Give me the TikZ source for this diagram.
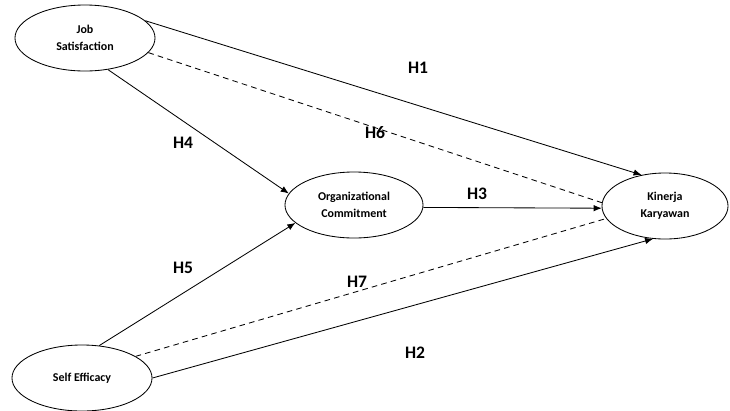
\documentclass[tikz,border=0pt]{standalone}
\usepackage{fontspec}
\setmainfont{Carlito}
\usetikzlibrary{arrows.meta,shapes.geometric}

\tikzset{
  construct/.style={draw,ellipse,line width=0.6pt,inner sep=0pt,minimum width=3.5cm,minimum height=1.65cm,align=center,font=\fontsize{8.5}{12}\selectfont\bfseries},
  path/.style={line width=0.6pt,-{Latex[length=2mm,width=1.6mm]}},
  mediated/.style={line width=0.6pt,dashed,dash pattern=on 4pt off 3pt},
  hyp/.style={font=\fontsize{12.5}{14}\selectfont\bfseries}
}

\begin{document}
\begin{tikzpicture}[x=0.025cm,y=-0.025cm]
  \useasboundingbox (0,0) rectangle (730,410);
  \node[construct] (JS) at (85,38) {Job\\Satisfaction};
  \node[construct,minimum width=3.45cm] (OC) at (354,205) {Organizational\\Commitment};
  \node[construct,minimum width=3.15cm] (KK) at (665,206) {Kinerja\\Karyawan};
  \node[construct] (SE) at (82,378) {Self Efficacy};
  \draw[path] (JS.16) -- (KK.127);
  \draw[mediated] (JS.-13) -- (KK.177);
  \draw[path] (JS.-54) -- (OC.170);
  \draw[path] (SE.62) -- (OC.197);
  \draw[path] (OC.-2) -- (KK.182);
  \draw[mediated] (SE.22) -- (KK.192);
  \draw[path] (SE.east) -- (KK.250);
  \node[hyp] (H1) at (418,68) {H1};
  \node[hyp] (H6) at (375,133) {H6};
  \node[hyp] (H4) at (183,143) {H4};
  \node[hyp] (H3) at (477,194) {H3};
  \node[hyp] (H5) at (183,268) {H5};
  \node[hyp] (H7) at (357,282) {H7};
  \node[hyp] (H2) at (415,353) {H2};
\end{tikzpicture}
\end{document}
